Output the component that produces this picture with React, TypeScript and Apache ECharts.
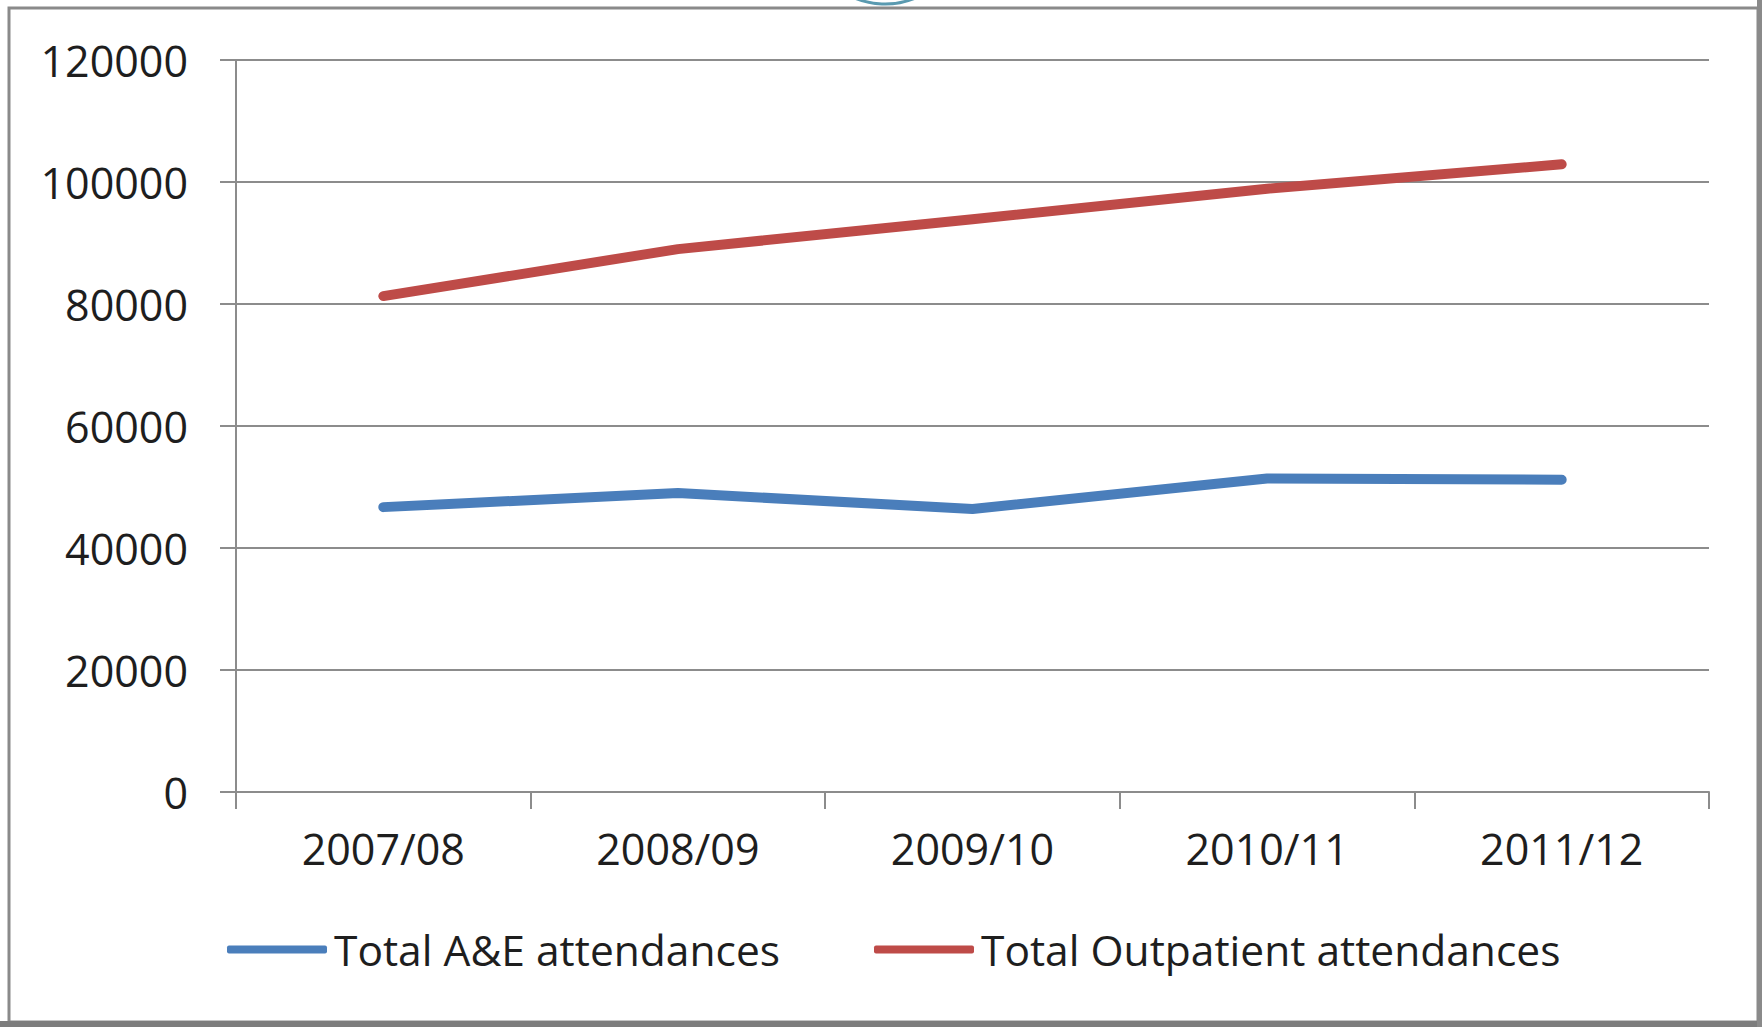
import React, { useEffect, useRef } from "react";
import * as echarts from "echarts";

const categories = ["2007/08", "2008/09", "2009/10", "2010/11", "2011/12"];
const aeAttendances = [46700, 49000, 46400, 51400, 51200];
const outpatientAttendances = [81300, 89000, 93900, 98900, 102900];
const seriesNames = ["Total A&E attendances", "Total Outpatient attendances"];
const yMin = 0;
const yMax = 120000;
const yInterval = 20000;

const FONT = "Open Sans";

export default function App() {
  const ref = useRef<HTMLDivElement>(null);
  useEffect(() => {
    if (!ref.current) return;
    const chart = echarts.init(ref.current, null, { renderer: "svg" });
    chart.setOption({
      animation: false,
      backgroundColor: "#ffffff",
      textStyle: { fontFamily: FONT },
      grid: { left: 236, right: 53, top: 60, bottom: 235, containLabel: false },
      xAxis: {
        type: "category",
        data: categories,
        boundaryGap: true,
        axisLine: { show: true, lineStyle: { color: "#8c8c8c", width: 2 } },
        axisTick: { show: true, alignWithLabel: false, length: 17, lineStyle: { color: "#8c8c8c", width: 2 } },
        axisLabel: { color: "#1e1e1e", fontSize: 43, fontFamily: FONT, margin: 35 },
        splitLine: { show: false },
      },
      yAxis: {
        type: "value",
        min: yMin,
        max: yMax,
        interval: yInterval,
        axisLine: { show: true, lineStyle: { color: "#8c8c8c", width: 2 } },
        axisTick: { show: true, inside: false, length: 16, lineStyle: { color: "#8c8c8c", width: 2 } },
        axisLabel: {
          color: "#1e1e1e",
          fontSize: 43,
          fontFamily: FONT,
          margin: 48,
          formatter: (v: number) => String(v),
        },
        splitLine: { show: true, lineStyle: { color: "#8c8c8c", width: 2 } },
      },
      legend: {
        show: true,
        left: 222,
        top: 923,
        itemWidth: 100,
        itemHeight: 8,
        itemGap: 94,
        icon: "roundRect",
        textStyle: { color: "#1e1e1e", fontSize: 42.5, fontFamily: FONT, padding: [0, 0, 0, 2] },
        data: seriesNames,
      },
      series: [
        {
          name: seriesNames[0],
          type: "line",
          data: aeAttendances,
          symbol: "none",
          color: "#4A7EBB",
          lineStyle: { color: "#4A7EBB", width: 10, cap: "round", join: "round" },
        },
        {
          name: seriesNames[1],
          type: "line",
          data: outpatientAttendances,
          symbol: "none",
          color: "#BE4B48",
          lineStyle: { color: "#BE4B48", width: 10, cap: "round", join: "round" },
        },
      ],
      graphic: [
        {
          type: "rect",
          silent: true,
          shape: { x: 9, y: 8, width: 1749, height: 1014 },
          style: { fill: "none", stroke: "#8a8a8a", lineWidth: 3 },
        },
        {
          type: "rect",
          silent: true,
          shape: { x: 0, y: 1021, width: 1762, height: 6 },
          style: { fill: "#7d7d7d" },
        },
        {
          type: "rect",
          silent: true,
          shape: { x: 1757, y: 0, width: 5, height: 1027 },
          style: { fill: "#8a8a8a" },
        },
        {
          type: "circle",
          silent: true,
          shape: { cx: 885, cy: -76, r: 80 },
          style: { fill: "none", stroke: "#5a9ab0", lineWidth: 3 },
        },
      ],
    });
    return () => chart.dispose();
  }, []);
  return (
    <div
      ref={ref}
      style={{ position: "fixed", left: 0, top: 0, width: 1762, height: 1027, background: "#fff" }}
    />
  );
}
